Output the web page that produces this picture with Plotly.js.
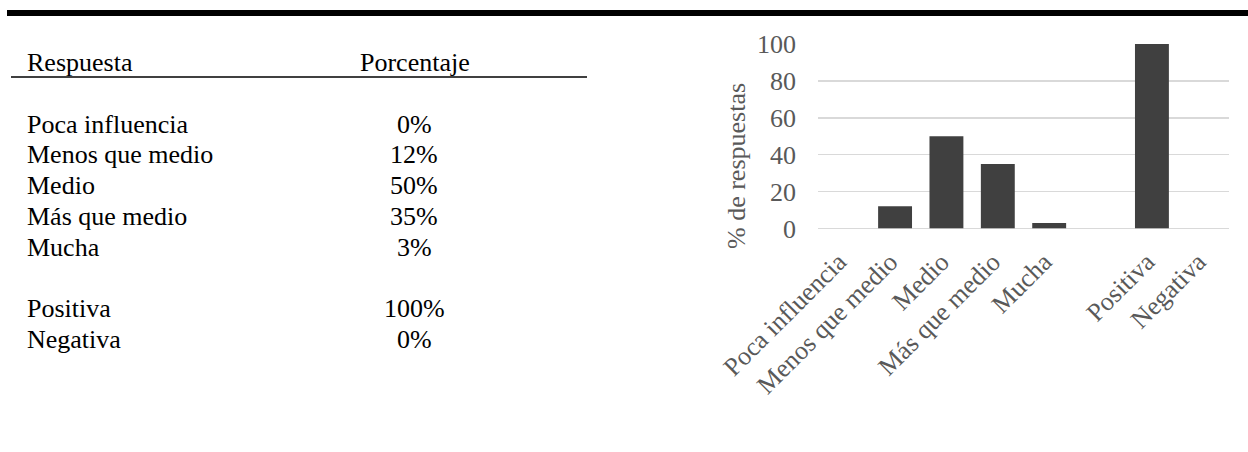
<!DOCTYPE html>
<html>
<head>
<meta charset="utf-8">
<script src="https://cdn.plot.ly/plotly-3.0.1.min.js"></script>
<style>
html,body{margin:0;padding:0;background:#fff;}
#chart{width:1248px;height:452px;}
</style>
</head>
<body>
<div id="chart"></div>
<script>
// ---- data ----
var tableHeader = ['Respuesta', 'Porcentaje'];
var tableLabels = ['Poca influencia', 'Menos que medio', 'Medio', 'Más que medio', 'Mucha', '', 'Positiva', 'Negativa'];
var tableValues = ['0%', '12%', '50%', '35%', '3%', '', '100%', '0%'];

var categories = ['Poca influencia', 'Menos que medio', 'Medio', 'Más que medio', 'Mucha', ' ', 'Positiva', 'Negativa'];
var percentages = [0, 12, 50, 35, 3, null, 100, 0];
var yTicks = [0, 20, 40, 60, 80, 100];
var yTitle = '% de respuestas';

// ---- layout helpers (pixel -> paper) ----
var W = 1248, H = 452;
function px(x){ return x / W; }
function py(y){ return 1 - y / H; }

var serif = 'Liberation Serif, Times New Roman, serif';
var grey = '#595959';

var annotations = [];
// table header
annotations.push({xref:'paper', yref:'paper', x:px(25), y:py(63), xanchor:'left', yanchor:'middle',
  text:tableHeader[0], showarrow:false, font:{family:serif, size:26, color:'#000'}});
annotations.push({xref:'paper', yref:'paper', x:px(415), y:py(63), xanchor:'center', yanchor:'middle',
  text:tableHeader[1], showarrow:false, font:{family:serif, size:26, color:'#000'}});
// table rows
for (var i = 0; i < tableLabels.length; i++) {
  if (!tableLabels[i]) continue;
  var yc = 124.2 + 30.7 * i;
  annotations.push({xref:'paper', yref:'paper', x:px(25), y:py(yc), xanchor:'left', yanchor:'middle',
    text:tableLabels[i], showarrow:false, font:{family:serif, size:26, color:'#000'}});
  annotations.push({xref:'paper', yref:'paper', x:px(414), y:py(yc), xanchor:'center', yanchor:'middle',
    text:tableValues[i], showarrow:false, font:{family:serif, size:26, color:'#000'}});
}
// y axis title
annotations.push({xref:'paper', yref:'paper', x:px(736), y:py(166), xanchor:'center', yanchor:'middle',
  text:yTitle, textangle:-90, showarrow:false, font:{family:serif, size:26, color:grey}});

var shapes = [
  {type:'line', xref:'paper', yref:'paper', x0:px(7), x1:px(1248), y0:py(13), y1:py(13),
   line:{color:'#000', width:6}},
  {type:'line', xref:'paper', yref:'paper', x0:px(11), x1:px(587), y0:py(77), y1:py(77),
   line:{color:'#000', width:1.3}}
];

var trace = {
  type:'bar',
  x:categories,
  y:percentages,
  marker:{color:'#404040', line:{width:0}},
  hoverinfo:'x+y'
};

var layout = {
  width:W, height:H,
  margin:{l:0, r:0, t:0, b:0},
  paper_bgcolor:'#fff', plot_bgcolor:'#fff',
  showlegend:false,
  bargap:0.34,
  font:{family:serif, color:grey, size:26},
  xaxis:{
    domain:[px(818), px(1229)],
    type:'category',
    tickangle:-45,
    tickfont:{family:serif, size:26, color:grey},
    showgrid:false, zeroline:false, showline:false, ticks:'',
    ticklabelstandoff:12,
    ticklabelshift:-5,
    fixedrange:true
  },
  yaxis:{
    domain:[py(228.5), py(44)],
    range:[0, 100],
    tickvals:yTicks,
    ticktext:yTicks.map(String),
    tickfont:{family:serif, size:26, color:grey},
    showgrid:true, gridcolor:'#d9d9d9', gridwidth:1.5,
    zeroline:true, zerolinecolor:'#d9d9d9', zerolinewidth:1.5,
    showline:false, ticks:'',
    ticklabelstandoff:21,
    fixedrange:true
  },
  annotations:annotations,
  shapes:shapes
};

Plotly.newPlot('chart', [trace], layout, {displayModeBar:false, staticPlot:true});
</script>
</body>
</html>
